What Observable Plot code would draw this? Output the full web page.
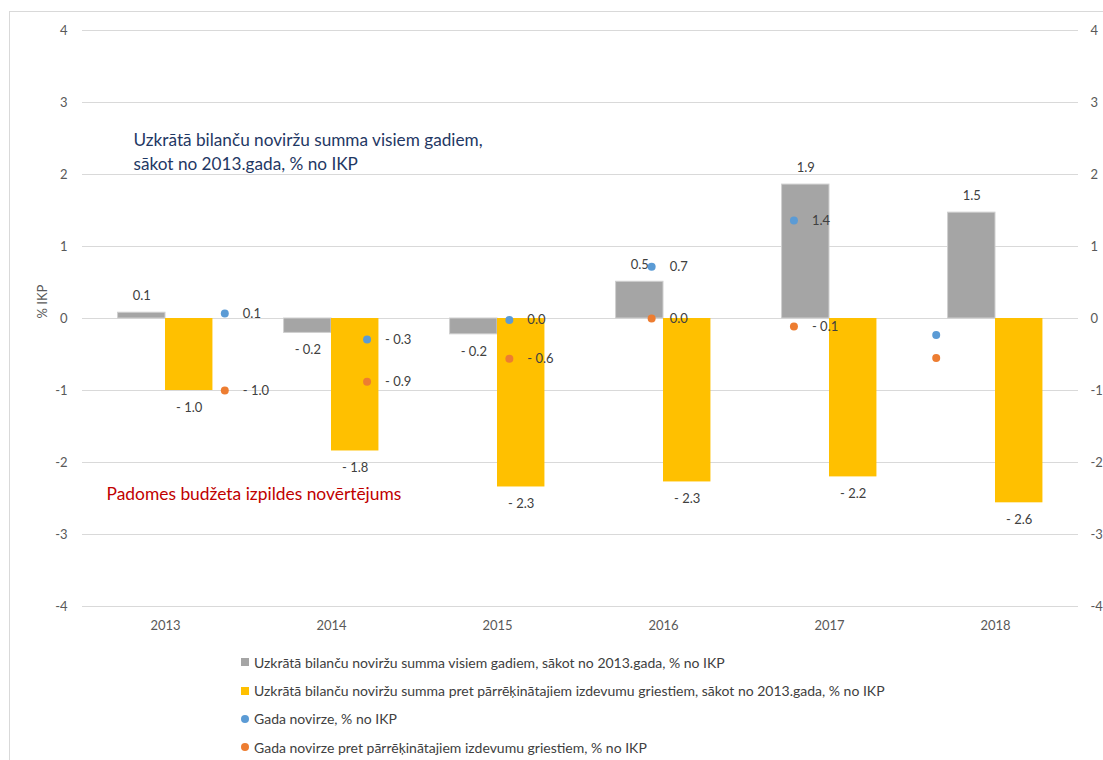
<!DOCTYPE html>
<html>
<head>
<meta charset="utf-8">
<script src="https://cdn.jsdelivr.net/npm/d3@7"></script>
<script src="https://cdn.jsdelivr.net/npm/@observablehq/plot@0.6"></script>
<style>
  body { margin: 0; background: #fff; font-family: Lato, sans-serif; }
  #wrap { position: relative; width: 1103px; height: 760px; overflow: hidden; }
  #frame { position: absolute; left: 9px; top: 11px; width: 1200px; height: 900px; border: 1px solid #d9d9d9; }
  #chart { position: absolute; left: 0; top: 0; }
  #legend { position: absolute; left: 241px; top: 648px; font: 14px Lato, sans-serif; color: #404040; }
  .item { height: 28.4px; display: flex; align-items: center; white-space: nowrap; }
  .sw { display: inline-block; width: 8px; height: 8px; margin-right: 5px; }
  .sw.c { border-radius: 50%; }
</style>
</head>
<body>
<div id="wrap">
  <div id="frame"></div>
  <div id="chart"></div>
  <div id="legend"></div>
</div>
<script>
// ---- data ----
const years = ["2013", "2014", "2015", "2016", "2017", "2018"];
const cumulative = [0.08, -0.20, -0.22, 0.51, 1.86, 1.47];
const cumulativeCeiling = [-1.00, -1.84, -2.34, -2.27, -2.20, -2.56];
const annual = [0.07, -0.29, -0.02, 0.72, 1.36, -0.23];
const annualCeiling = [-1.00, -0.88, -0.56, 0.00, -0.11, -0.55];
const unlabeledDotYears = ["2018"];
const yTicks = [-4, -3, -2, -1, 0, 1, 2, 3, 4];
const secondaryAxisSlots = 7; // dots sit on a secondary category axis

const seriesNames = [
  "Uzkrātā bilanču noviržu summa visiem gadiem, sākot no 2013.gada, % no IKP",
  "Uzkrātā bilanču noviržu summa pret pārrēķinātajiem izdevumu griestiem, sākot no 2013.gada, % no IKP",
  "Gada novirze, % no IKP",
  "Gada novirze pret pārrēķinātajiem izdevumu griestiem, % no IKP"
];
const colors = ["#A5A5A5", "#FFC000", "#5B9BD5", "#ED7D31"];
const annotationBlue = "Uzkrātā bilanču noviržu summa visiem gadiem,\nsākot no 2013.gada, % no IKP";
const annotationRed = "Padomes budžeta izpildes novērtējums";

// ---- derived tables ----
const gapWidth = 1.5;
const barW = 1 / (2 + gapWidth);
const pad = (gapWidth / 2) * barW;
const fmt = v => {
  const r = Math.round(v * 10) / 10;
  if (r === 0) return "0.0";
  return r < 0 ? "- " + Math.abs(r).toFixed(1) : r.toFixed(1);
};
const grayRows = years.map((year, i) => ({year, i, value: cumulative[i], x1: i + pad, x2: i + 0.5}));
const yellowRows = years.map((year, i) => ({year, i, value: cumulativeCeiling[i], x1: i + 0.5, x2: i + 1 - pad}));
const barRows = grayRows.concat(yellowRows);
const dotX = i => (i + 1) * years.length / secondaryAxisSlots;
const blueRows = years.map((year, i) => ({year, value: annual[i], x: dotX(i)}));
const orangeRows = years.map((year, i) => ({year, value: annualCeiling[i], x: dotX(i)}));
const dotRows = blueRows.concat(orangeRows);
const labeledDots = dotRows.filter(d => !unlabeledDotYears.includes(d.year));
const mid = d => (d.x1 + d.x2) / 2;

const chart = Plot.plot({
  width: 1103,
  height: 640,
  marginTop: 30,
  marginBottom: 34,
  marginLeft: 82,
  marginRight: 25,
  style: {fontFamily: "Lato, sans-serif", fontSize: "13px", color: "#595959", background: "transparent"},
  x: {type: "linear", domain: [0, years.length]},
  y: {domain: [-4, 4]},
  marks: [
    Plot.gridY(yTicks, {stroke: "#d9d9d9", strokeOpacity: 1}),
    Plot.axisY({ticks: yTicks, tickSize: 0, tickPadding: 15, tickFormat: d => String(d), label: null, anchor: "left"}),
    Plot.axisY({ticks: yTicks, tickSize: 0, tickPadding: 12, tickFormat: d => String(d), label: null, anchor: "right", textAnchor: "start"}),
    Plot.axisX({ticks: years.map((_, i) => i + 0.5), tickFormat: d => years[Math.floor(d)], tickSize: 0, tickPadding: 14, label: null}),
    Plot.text(["% IKP"], {frameAnchor: "left", dx: -40, rotate: -90, fill: "#595959", fontSize: 13}),
    Plot.rectY(grayRows, {x1: "x1", x2: "x2", y: "value", fill: colors[0], stroke: "#cfcfcf", strokeWidth: 1}),
    Plot.rectY(yellowRows, {x1: "x1", x2: "x2", y: "value", fill: colors[1]}),
    Plot.text(barRows.filter(d => d.value >= 0), {x: mid, y: "value", text: d => fmt(d.value), dy: -17, fill: "#404040", fontSize: 13}),
    Plot.text(barRows.filter(d => d.value < 0), {x: mid, y: "value", text: d => fmt(d.value), dy: 17, fill: "#404040", fontSize: 13}),
    Plot.dot(blueRows, {x: "x", y: "value", r: 4, fill: colors[2], stroke: null}),
    Plot.dot(orangeRows, {x: "x", y: "value", r: 4, fill: colors[3], stroke: null}),
    Plot.text(labeledDots, {x: "x", y: "value", text: d => fmt(d.value), dx: 18, textAnchor: "start", fill: "#404040", fontSize: 13}),
    Plot.text([annotationBlue], {frameAnchor: "top-left", dx: 51, dy: 99, lineAnchor: "top", lineHeight: 1.37, fill: "#1F3864", fontSize: 17.2, textAnchor: "start"}),
    Plot.text([annotationRed], {frameAnchor: "top-left", dx: 24, dy: 464, lineAnchor: "middle", fill: "#C00000", fontSize: 17.4, textAnchor: "start"})
  ]
});
document.getElementById("chart").appendChild(chart);

const legend = document.getElementById("legend");
seriesNames.forEach((name, k) => {
  const item = document.createElement("div");
  item.className = "item";
  const sw = document.createElement("span");
  sw.className = "sw" + (k >= 2 ? " c" : "");
  sw.style.background = colors[k];
  item.appendChild(sw);
  item.appendChild(document.createTextNode(name));
  legend.appendChild(item);
});
</script>
</body>
</html>
